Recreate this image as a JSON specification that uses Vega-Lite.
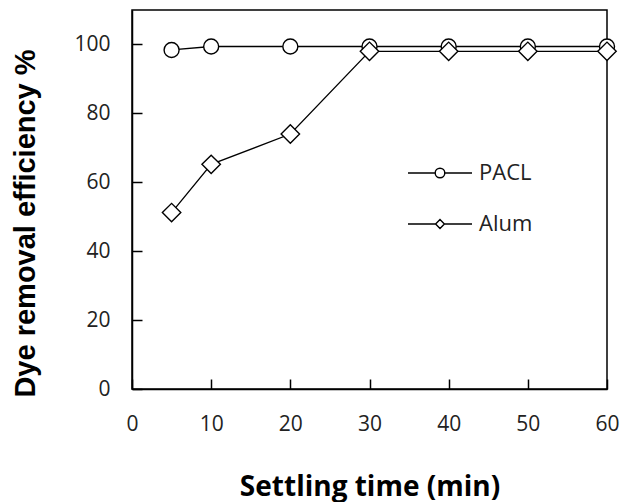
{
  "$schema": "https://vega.github.io/schema/vega-lite/v6.json",
  "width": 475,
  "height": 379,
  "autosize": {"type": "none"},
  "padding": {"left": 132, "top": 10, "right": 21, "bottom": 113},
  "background": "white",
  "config": {
    "view": {"stroke": "#000", "strokeWidth": 1.5},
    "font": "Open Sans",
    "axis": {
      "domainColor": "#000", "domainWidth": 1.5, "tickColor": "#000", "tickWidth": 1.5,
      "labelColor": "#222", "titleColor": "#000", "grid": false, "labelFlush": false,
      "labelFont": "Open Sans", "labelFontSize": 21, "titleFontWeight": "bold"
    },
    "legend": {"labelFont": "Open Sans", "labelFontSize": 22, "labelColor": "#222", "padding": 0, "symbolStrokeColor": "#000", "symbolFillColor": "white", "symbolStrokeWidth": 1.4, "symbolOpacity": 1}
  },
  "data": {
    "values": [
      {"time": 5, "eff": 98.4, "series": "PACL"},
      {"time": 10, "eff": 99.4, "series": "PACL"},
      {"time": 20, "eff": 99.4, "series": "PACL"},
      {"time": 30, "eff": 99.4, "series": "PACL"},
      {"time": 40, "eff": 99.4, "series": "PACL"},
      {"time": 50, "eff": 99.4, "series": "PACL"},
      {"time": 60, "eff": 99.4, "series": "PACL"},
      {"time": 5, "eff": 51.2, "series": "Alum"},
      {"time": 10, "eff": 65.2, "series": "Alum"},
      {"time": 20, "eff": 74.0, "series": "Alum"},
      {"time": 30, "eff": 98.0, "series": "Alum"},
      {"time": 40, "eff": 98.0, "series": "Alum"},
      {"time": 50, "eff": 98.0, "series": "Alum"},
      {"time": 60, "eff": 98.0, "series": "Alum"}
    ]
  },
  "encoding": {
    "x": {
      "field": "time", "type": "quantitative",
      "scale": {"domain": [0, 60], "nice": false},
      "axis": {"orient": "bottom", "tickCount": 6, "ticks": true, "tickSize": -10, "labelPadding": 34, "zindex": 1,
               "title": "Settling time (min)", "titleFont": "Open Sans", "titleFontSize": 28, "titleY": 98, "titleBaseline": "middle"}
    },
    "y": {
      "field": "eff", "type": "quantitative",
      "scale": {"domain": [0, 110], "nice": false},
      "axis": {"orient": "left", "tickCount": 6, "ticks": true, "tickSize": -10, "labelPadding": 32, "zindex": 1,
               "title": "Dye removal efficiency %", "titleFont": "Liberation Sans", "titleFontSize": 29, "titleX": -107, "titleY": 213, "titleAngle": -90, "titleAlign": "center", "titleBaseline": "middle"}
    }
  },
  "layer": [
    {
      "mark": {"type": "line", "color": "#000", "strokeWidth": 1.3},
      "encoding": {"detail": {"field": "series"}}
    },
    {
      "transform": [{"filter": "datum.series === 'PACL'"}],
      "mark": {"type": "point", "shape": "circle", "filled": false, "fill": "white", "fillOpacity": 1, "strokeWidth": 1.4, "opacity": 1, "size": 225},
      "encoding": {
        "color": {
          "field": "series", "type": "nominal",
          "scale": {"domain": ["PACL"], "range": ["#000"]},
          "legend": {"title": null, "orient": "none", "legendX": 297, "legendY": 152, "symbolSize": 64, "labelOffset": 28,
                     "symbolType": "M-8,0L-1.2,0M1.2,0L8,0M-1.2,0A1.2,1.2,0,1,1,1.2,0A1.2,1.2,0,1,1,-1.2,0Z"}
        }
      }
    },
    {
      "transform": [{"filter": "datum.series === 'Alum'"}],
      "mark": {"type": "point", "shape": "diamond", "filled": false, "fill": "white", "fillOpacity": 1, "strokeWidth": 1.4, "opacity": 1, "size": 340},
      "encoding": {
        "stroke": {
          "field": "series", "type": "nominal",
          "scale": {"domain": ["Alum"], "range": ["#000"]},
          "legend": {"title": null, "orient": "none", "legendX": 297, "legendY": 203, "symbolSize": 64, "labelOffset": 28,
                     "symbolType": "M-8,0L-1.1,0M1.1,0L8,0M-1.1,0L0,-1.1L1.1,0L0,1.1Z"}
        }
      }
    }
  ]
}
